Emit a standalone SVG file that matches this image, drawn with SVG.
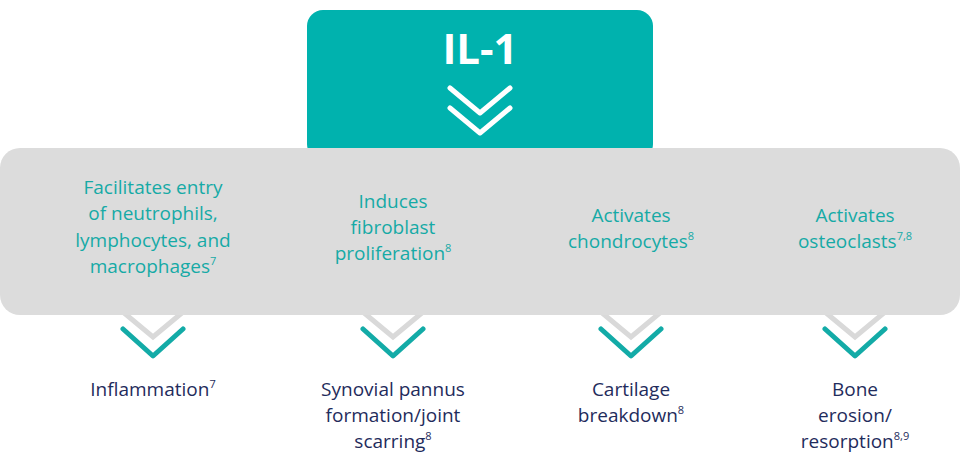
<svg xmlns="http://www.w3.org/2000/svg" width="960" height="457" viewBox="0 0 960 457">
<style>
.t{font-family:"Open Sans","Liberation Sans",sans-serif;font-size:19px;fill:#16aaa6;text-anchor:middle}
.b{font-family:"Open Sans","Liberation Sans",sans-serif;font-size:19px;fill:#1f2c5c;text-anchor:middle}
.s{font-size:11px}
.gc{fill:none;stroke:#d9d9d9;stroke-width:5}
.tc{fill:none;stroke:#13aba7;stroke-width:5;stroke-linecap:round;stroke-linejoin:round}
</style>
<g id="il1">
<rect x="307" y="10" width="346" height="150" rx="16" fill="#00b2ae"/>
<text x="480" y="64" font-family="Open Sans,Liberation Sans,sans-serif" font-weight="bold" font-size="42" fill="#fff" text-anchor="middle">IL-1</text>
<path d="M450 88 L480 113 L510 88 M450 108 L480 133 L510 108" fill="none" stroke="#fff" stroke-width="5" stroke-linecap="round" stroke-linejoin="round"/>
</g>
<g id="connectors">
<path class="gc" d="M123 312 L153 337 L183 312 M363 312 L393 337 L423 312 M601 312 L631 337 L661 312 M825 312 L855 337 L885 312"/>
<path class="tc" d="M123 329 L153 356 L183 329 M363 329 L393 356 L423 329 M601 329 L631 356 L661 329 M825 329 L855 356 L885 329"/>
</g>
<g id="effects">
<rect x="0" y="148" width="960" height="167" rx="20" fill="#dcdcdc"/>
</g>
<g id="c1"><text class="t" x="153" y="194">Facilitates entry</text><text class="t" x="153" y="220">of neutrophils,</text><text class="t" x="153" y="247">lymphocytes, and</text><text class="t" x="153" y="273">macrophages<tspan class="s" dy="-8">7</tspan></text></g>
<g id="c2"><text class="t" x="393" y="208">Induces</text><text class="t" x="393" y="234">fibroblast</text><text class="t" x="393" y="260">proliferation<tspan class="s" dy="-8">8</tspan></text></g>
<g id="c3"><text class="t" x="631" y="222">Activates</text><text class="t" x="631" y="248">chondrocytes<tspan class="s" dy="-8">8</tspan></text></g>
<g id="c4"><text class="t" x="855" y="222">Activates</text><text class="t" x="855" y="248">osteoclasts<tspan class="s" dy="-8">7,8</tspan></text></g>
<g id="o1"><text class="b" x="153" y="396">Inflammation<tspan class="s" dy="-8">7</tspan></text></g>
<g id="o2"><text class="b" x="393" y="396">Synovial pannus</text><text class="b" x="393" y="422">formation/joint</text><text class="b" x="393" y="448">scarring<tspan class="s" dy="-8">8</tspan></text></g>
<g id="o3"><text class="b" x="631" y="396">Cartilage</text><text class="b" x="631" y="422">breakdown<tspan class="s" dy="-8">8</tspan></text></g>
<g id="o4"><text class="b" x="855" y="396">Bone</text><text class="b" x="855" y="422">erosion/</text><text class="b" x="855" y="448">resorption<tspan class="s" dy="-8">8,9</tspan></text></g>
</svg>
